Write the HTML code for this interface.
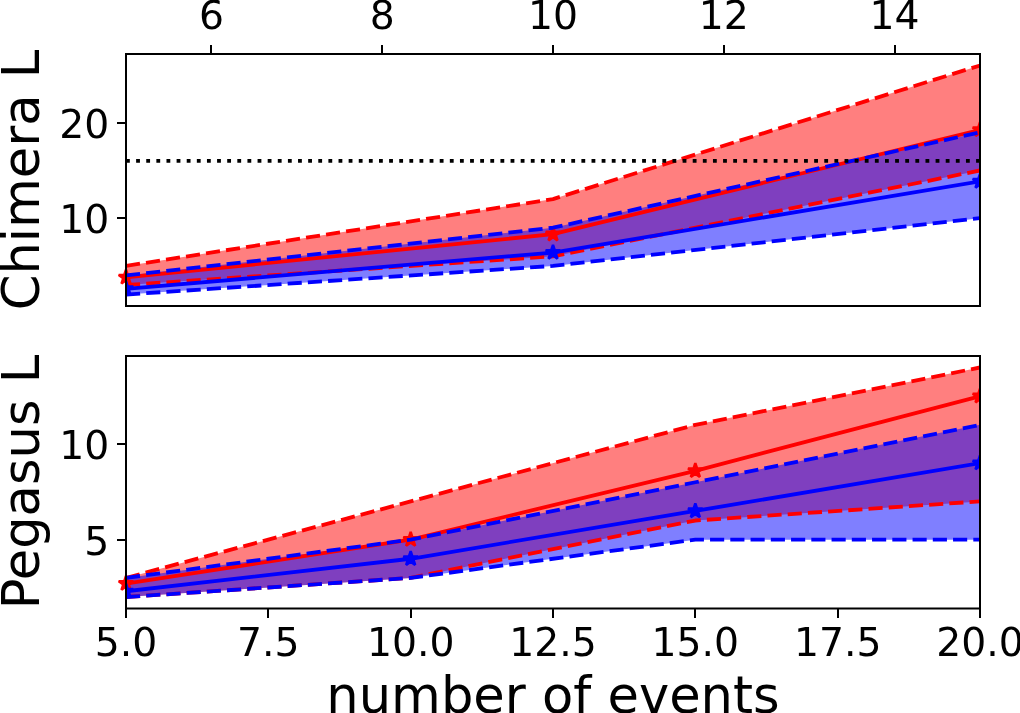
<!DOCTYPE html>
<html lang="en"><head><meta charset="utf-8"><title>Chimera / Pegasus L vs number of events</title>
<style>html,body{margin:0;padding:0;background:#fff;}body{width:1020px;height:713px;overflow:hidden;}svg{display:block;}</style>
</head><body>
<svg width="1020" height="713" viewBox="0 0 1020 713" font-family='"DejaVu Sans", "Liberation Sans", sans-serif'>
<rect width="1020" height="713" fill="#ffffff"/>
<defs><clipPath id="c1"><rect x="126.0" y="54.0" width="854.0" height="252.0"/></clipPath><clipPath id="c2"><rect x="126.0" y="356.0" width="854.0" height="252.5"/></clipPath></defs>
<g clip-path="url(#c1)">
<polygon points="126.00,265.91 553.00,199.09 980.00,65.45 980.00,170.45 553.00,256.36 126.00,285.00" fill="#ff0000" fill-opacity="0.5"/>
<polygon points="126.00,275.45 553.00,227.73 980.00,132.27 980.00,218.18 553.00,265.91 126.00,294.55" fill="#0000ff" fill-opacity="0.5"/>
</g>
<polygon points="126.00,269.72 124.28,275.00 118.73,275.00 123.22,278.27 121.51,283.55 126.00,280.28 130.49,283.55 128.78,278.27 133.27,275.00 127.72,275.00" fill="#ff0000" stroke="#ff0000" stroke-width="2.547" stroke-linejoin="bevel"/>
<g clip-path="url(#c1)" fill="none" stroke-width="3.8205" stroke-linejoin="round">
<polyline points="126.00,277.36 553.00,234.22 980.00,129.89" stroke="#ff0000" stroke-linecap="square"/>
<polygon points="553.00,226.58 551.28,231.86 545.73,231.86 550.22,235.12 548.51,240.40 553.00,237.14 557.49,240.40 555.78,235.12 560.27,231.86 554.72,231.86" fill="#ff0000" stroke="#ff0000" stroke-width="2.547" stroke-linejoin="bevel"/>
<polygon points="980.00,122.25 978.28,127.53 972.73,127.53 977.22,130.79 975.51,136.07 980.00,132.80 984.49,136.07 982.78,130.79 987.27,127.53 981.72,127.53" fill="#ff0000" stroke="#ff0000" stroke-width="2.547" stroke-linejoin="bevel"/>
<polyline points="126.00,265.91 553.00,199.09 980.00,65.45" stroke="#ff0000" stroke-dasharray="14.14 6.11"/>
<polyline points="126.00,285.00 553.00,256.36 980.00,170.45" stroke="#ff0000" stroke-dasharray="14.14 6.11"/>
<polyline points="126.00,288.82 553.00,252.55 980.00,181.43" stroke="#0000ff" stroke-linecap="square"/>
<polygon points="126.00,281.18 124.28,286.46 118.73,286.46 123.22,289.72 121.51,295.00 126.00,291.74 130.49,295.00 128.78,289.72 133.27,286.46 127.72,286.46" fill="#0000ff" stroke="#0000ff" stroke-width="2.547" stroke-linejoin="bevel"/>
<polygon points="553.00,244.90 551.28,250.18 545.73,250.18 550.22,253.45 548.51,258.73 553.00,255.46 557.49,258.73 555.78,253.45 560.27,250.18 554.72,250.18" fill="#0000ff" stroke="#0000ff" stroke-width="2.547" stroke-linejoin="bevel"/>
<polygon points="980.00,173.79 978.28,179.07 972.73,179.07 977.22,182.33 975.51,187.61 980.00,184.35 984.49,187.61 982.78,182.33 987.27,179.07 981.72,179.07" fill="#0000ff" stroke="#0000ff" stroke-width="2.547" stroke-linejoin="bevel"/>
<polyline points="126.00,275.45 553.00,227.73 980.00,132.27" stroke="#0000ff" stroke-dasharray="14.14 6.11"/>
<polyline points="126.00,294.55 553.00,265.91 980.00,218.18" stroke="#0000ff" stroke-dasharray="14.14 6.11"/>
<line x1="126.0" y1="160.91" x2="980.0" y2="160.91" stroke="#000000" stroke-dasharray="3.82 6.30"/>
</g>
<g clip-path="url(#c2)">
<polygon points="126.00,577.89 410.67,501.38 695.33,424.86 980.00,367.48 980.00,501.38 695.33,520.51 410.67,577.89 126.00,597.02" fill="#ff0000" fill-opacity="0.5"/>
<polygon points="126.00,577.89 410.67,539.64 695.33,482.25 980.00,424.86 980.00,539.64 695.33,539.64 410.67,577.89 126.00,597.02" fill="#0000ff" fill-opacity="0.5"/>
</g>
<polygon points="126.00,575.99 124.28,581.27 118.73,581.27 123.22,584.53 121.51,589.81 126.00,586.55 130.49,589.81 128.78,584.53 133.27,581.27 127.72,581.27" fill="#ff0000" stroke="#ff0000" stroke-width="2.547" stroke-linejoin="bevel"/>
<g clip-path="url(#c2)" fill="none" stroke-width="3.8205" stroke-linejoin="round">
<polyline points="126.00,583.63 410.67,539.64 695.33,470.77 980.00,396.17" stroke="#ff0000" stroke-linecap="square"/>
<polygon points="410.67,532.00 408.95,537.28 403.40,537.28 407.89,540.54 406.18,545.82 410.67,542.55 415.16,545.82 413.44,540.54 417.93,537.28 412.38,537.28" fill="#ff0000" stroke="#ff0000" stroke-width="2.547" stroke-linejoin="bevel"/>
<polygon points="695.33,463.13 693.62,468.41 688.07,468.41 692.56,471.67 690.84,476.95 695.33,473.69 699.82,476.95 698.11,471.67 702.60,468.41 697.05,468.41" fill="#ff0000" stroke="#ff0000" stroke-width="2.547" stroke-linejoin="bevel"/>
<polygon points="980.00,388.53 978.28,393.81 972.73,393.81 977.22,397.07 975.51,402.35 980.00,399.09 984.49,402.35 982.78,397.07 987.27,393.81 981.72,393.81" fill="#ff0000" stroke="#ff0000" stroke-width="2.547" stroke-linejoin="bevel"/>
<polyline points="126.00,577.89 410.67,501.38 695.33,424.86 980.00,367.48" stroke="#ff0000" stroke-dasharray="14.14 6.11"/>
<polyline points="126.00,597.02 410.67,577.89 695.33,520.51 980.00,501.38" stroke="#ff0000" stroke-dasharray="14.14 6.11"/>
<polyline points="126.00,591.28 410.67,558.77 695.33,510.94 980.00,463.12" stroke="#0000ff" stroke-linecap="square"/>
<polygon points="126.00,583.64 124.28,588.92 118.73,588.92 123.22,592.19 121.51,597.47 126.00,594.20 130.49,597.47 128.78,592.19 133.27,588.92 127.72,588.92" fill="#0000ff" stroke="#0000ff" stroke-width="2.547" stroke-linejoin="bevel"/>
<polygon points="410.67,551.12 408.95,556.40 403.40,556.40 407.89,559.67 406.18,564.95 410.67,561.68 415.16,564.95 413.44,559.67 417.93,556.40 412.38,556.40" fill="#0000ff" stroke="#0000ff" stroke-width="2.547" stroke-linejoin="bevel"/>
<polygon points="695.33,503.30 693.62,508.58 688.07,508.58 692.56,511.85 690.84,517.12 695.33,513.86 699.82,517.12 698.11,511.85 702.60,508.58 697.05,508.58" fill="#0000ff" stroke="#0000ff" stroke-width="2.547" stroke-linejoin="bevel"/>
<polygon points="980.00,455.48 978.28,460.76 972.73,460.76 977.22,464.02 975.51,469.30 980.00,466.04 984.49,469.30 982.78,464.02 987.27,460.76 981.72,460.76" fill="#0000ff" stroke="#0000ff" stroke-width="2.547" stroke-linejoin="bevel"/>
<polyline points="126.00,577.89 410.67,539.64 695.33,482.25 980.00,424.86" stroke="#0000ff" stroke-dasharray="14.14 6.11"/>
<polyline points="126.00,597.02 410.67,577.89 695.33,539.64 980.00,539.64" stroke="#0000ff" stroke-dasharray="14.14 6.11"/>
</g>
<g stroke="#000000" stroke-width="2" shape-rendering="crispEdges">
<line x1="211" y1="54.0" x2="211" y2="45.0"/>
<line x1="382" y1="54.0" x2="382" y2="45.0"/>
<line x1="553" y1="54.0" x2="553" y2="45.0"/>
<line x1="724" y1="54.0" x2="724" y2="45.0"/>
<line x1="895" y1="54.0" x2="895" y2="45.0"/>
<line x1="126.0" y1="218" x2="117.0" y2="218"/>
<line x1="126.0" y1="123" x2="117.0" y2="123"/>
<line x1="126" y1="608.5" x2="126" y2="617.5"/>
<line x1="268" y1="608.5" x2="268" y2="617.5"/>
<line x1="411" y1="608.5" x2="411" y2="617.5"/>
<line x1="553" y1="608.5" x2="553" y2="617.5"/>
<line x1="695" y1="608.5" x2="695" y2="617.5"/>
<line x1="838" y1="608.5" x2="838" y2="617.5"/>
<line x1="980" y1="608.5" x2="980" y2="617.5"/>
<line x1="126.0" y1="540" x2="117.0" y2="540"/>
<line x1="126.0" y1="444" x2="117.0" y2="444"/>
</g>
<g fill="none" stroke="#000000" stroke-width="2" shape-rendering="crispEdges"><rect x="126.0" y="54.0" width="854.0" height="252.0"/><line x1="126.0" y1="355.0" x2="126.0" y2="609.5"/><line x1="980.0" y1="355.0" x2="980.0" y2="609.5"/><line x1="125.0" y1="356.0" x2="981.0" y2="356.0"/></g>
<line x1="125.0" y1="608.5" x2="981.0" y2="608.5" stroke="#000000" stroke-width="2"/>
<g font-size="39.3px" fill="#000000">
<text x="211.40" y="28.5" text-anchor="middle">6</text>
<text x="382.20" y="28.5" text-anchor="middle">8</text>
<text x="553.00" y="28.5" text-anchor="middle">10</text>
<text x="723.80" y="28.5" text-anchor="middle">12</text>
<text x="894.60" y="28.5" text-anchor="middle">14</text>
<text x="109.3" y="233.18" text-anchor="end">10</text>
<text x="109.3" y="137.73" text-anchor="end">20</text>
<text x="126.00" y="655.6" text-anchor="middle">5.0</text>
<text x="268.33" y="655.6" text-anchor="middle">7.5</text>
<text x="410.67" y="655.6" text-anchor="middle">10.0</text>
<text x="553.00" y="655.6" text-anchor="middle">12.5</text>
<text x="695.33" y="655.6" text-anchor="middle">15.0</text>
<text x="837.67" y="655.6" text-anchor="middle">17.5</text>
<text x="980.00" y="655.6" text-anchor="middle">20.0</text>
<text x="109.3" y="554.64" text-anchor="end">5</text>
<text x="109.3" y="458.99" text-anchor="end">10</text>
</g>
<g font-size="51.1px" fill="#000000">
<text x="553" y="712.6" text-anchor="middle">number of events</text>
<text transform="translate(38.9,180) rotate(-90)" text-anchor="middle">Chimera L</text>
<text transform="translate(38.9,482) rotate(-90)" text-anchor="middle">Pegasus L</text>
</g>
</svg>
</body></html>
